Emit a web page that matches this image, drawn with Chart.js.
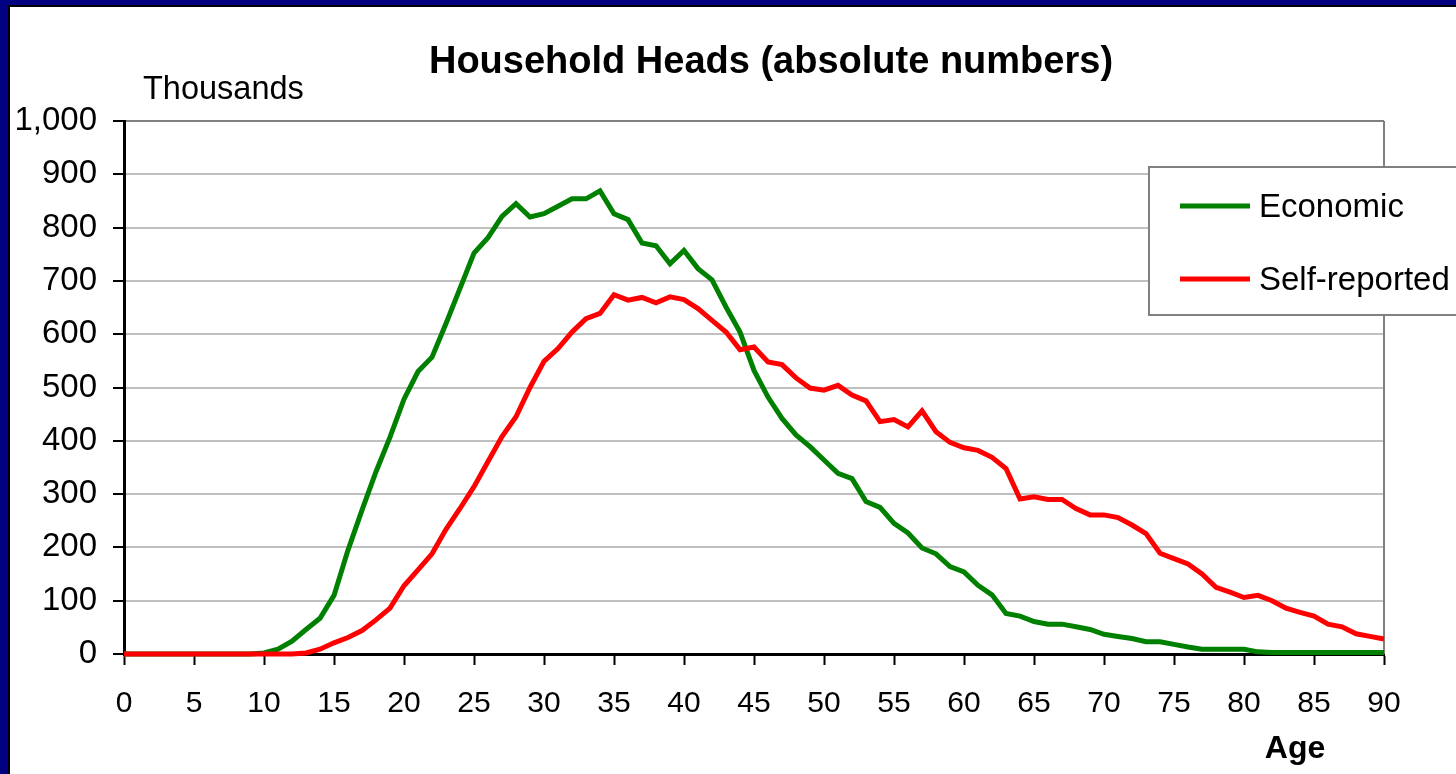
<!DOCTYPE html>
<html>
<head>
<meta charset="utf-8">
<script src="https://cdn.jsdelivr.net/npm/chart.js@4"></script>
<style>
  html, body { margin: 0; padding: 0; }
  body { width: 1456px; height: 774px; overflow: hidden; background: #000080; position: relative; }
  #marco {
    position: absolute; left: 8px; top: 5px;
    width: 1448px; height: 769px;
    border-left: 2px solid #000; border-top: 2px solid #000;
    background: #fff; overflow: hidden;
  }
  #grafico { position: absolute; left: 0; top: 0; }
</style>
</head>
<body>
<div id="marco"><canvas id="grafico" width="1446" height="767"></canvas></div>
<script>
const titulo = "Household Heads (absolute numbers)";
const tituloEjeY = "Thousands";
const tituloEjeX = "Age";

const edades = Array.from({ length: 91 }, (_, i) => i);

const economic = [
  0, 0, 0, 0, 0, 0, 0, 0, 0, 0,
  2, 9, 24, 46, 67, 110, 195, 270, 342, 407,
  478, 530, 557, 620, 686, 752, 781, 821, 845, 820,
  826, 840, 854, 854, 869, 826, 815, 771, 766, 732,
  757, 723, 702, 651, 604, 532, 482, 442, 411, 389,
  364, 339, 329, 286, 275, 245, 227, 199, 188, 164,
  154, 129, 111, 76, 71, 61, 56, 56, 51, 46,
  37, 33, 29, 23, 23, 18, 13, 9, 9, 9,
  9, 4, 3, 3, 3, 3, 3, 3, 3, 3, 3,
];

const selfReported = [
  0, 0, 0, 0, 0, 0, 0, 0, 0, 0,
  0, 0, 0, 2, 9, 21, 31, 44, 64, 86,
  128, 158, 188, 234, 273, 314, 361, 408, 445, 500,
  549, 573, 604, 629, 639, 674, 664, 669, 659, 670,
  665, 648, 626, 604, 571, 576, 548, 543, 518, 499,
  495, 504, 486, 475, 436, 440, 426, 456, 417, 397,
  387, 382, 369, 348, 291, 295, 290, 290, 273, 261,
  261, 256, 242, 226, 189, 179, 169, 150, 125, 116,
  106, 110, 100, 86, 78, 71, 56, 51, 38, 33, 28,
];

const yMin = 0;
const yMax = 1000;
const yPaso = 100;
const xPaso = 5;

const FUENTE = "'Liberation Sans', Arial, sans-serif";

function aPuntos(valores) {
  return valores.map((v, i) => ({ x: edades[i], y: v }));
}

// textos, borde del área y leyenda a mano, como en el original
const decorado = {
  id: "decorado",
  beforeDatasetsDraw(chart) {
    const { ctx, chartArea } = chart;
    ctx.save();
    ctx.strokeStyle = "#808080";
    ctx.lineWidth = 2;
    ctx.beginPath();
    ctx.moveTo(chartArea.right, chartArea.top);
    ctx.lineTo(chartArea.right, chartArea.bottom);
    ctx.stroke();
    ctx.restore();
  },
  afterDraw(chart) {
    const { ctx } = chart;
    ctx.save();
    ctx.fillStyle = "#000";
    ctx.textBaseline = "alphabetic";

    ctx.font = `bold 38px ${FUENTE}`;
    ctx.textAlign = "center";
    ctx.fillText(titulo, 761, 66);

    ctx.font = `32.5px ${FUENTE}`;
    ctx.textAlign = "left";
    ctx.fillText(tituloEjeY, 133, 92);

    ctx.font = `bold 32px ${FUENTE}`;
    ctx.textAlign = "center";
    ctx.fillText(tituloEjeX, 1285, 751);

    // leyenda
    ctx.fillStyle = "#fff";
    ctx.fillRect(1139, 160, 400, 148);
    ctx.strokeStyle = "#808080";
    ctx.lineWidth = 2;
    ctx.strokeRect(1139, 160, 400, 148);

    const filas = [210, 283];
    chart.data.datasets.forEach((ds, i) => {
      const y = filas[i];
      ctx.strokeStyle = ds.borderColor;
      ctx.lineWidth = 5;
      ctx.beginPath();
      ctx.moveTo(1170, y - 11);
      ctx.lineTo(1240, y - 11);
      ctx.stroke();
      ctx.fillStyle = "#000";
      ctx.font = `33px ${FUENTE}`;
      ctx.textAlign = "left";
      ctx.fillText(ds.label, 1249, y);
    });
    ctx.restore();
  },
};

new Chart(document.getElementById("grafico"), {
  type: "line",
  data: {
    datasets: [
      {
        label: "Economic",
        data: aPuntos(economic),
        borderColor: "#008000",
        borderWidth: 5,
        pointRadius: 0,
        tension: 0,
        clip: false,
        order: 2,
      },
      {
        label: "Self-reported",
        data: aPuntos(selfReported),
        borderColor: "#ff0000",
        borderWidth: 5,
        pointRadius: 0,
        tension: 0,
        clip: false,
        order: 1,
      },
    ],
  },
  options: {
    responsive: false,
    animation: false,
    layout: { padding: { left: 0, top: 114, right: 72, bottom: 40 } },
    scales: {
      x: {
        type: "linear",
        min: 0,
        max: 90,
        afterFit: (eje) => { eje.height = 80; },
        border: { color: "#000", width: 3 },
        grid: { drawOnChartArea: false, tickColor: "#000", tickLength: 11, tickWidth: 2 },
        ticks: {
          stepSize: xPaso,
          padding: 21,
          color: "#000",
          font: { family: FUENTE, size: 30 },
          maxRotation: 0,
        },
      },
      y: {
        min: yMin,
        max: yMax,
        afterFit: (eje) => { eje.width = 114; },
        border: { color: "#000", width: 3 },
        grid: {
          color: (c) => (c.tick && c.tick.value === yMax ? "#808080" : "#c0c0c0"),
          lineWidth: 2,
          tickColor: "#000",
          tickLength: 11,
          tickWidth: 2,
        },
        ticks: {
          stepSize: yPaso,
          padding: 16,
          color: "#000",
          font: { family: FUENTE, size: 33 },
          callback: (v) => v.toLocaleString("en-US"),
        },
      },
    },
    plugins: {
      legend: { display: false },
      title: { display: false },
      tooltip: { enabled: false },
    },
  },
  plugins: [decorado],
});
</script>
</body>
</html>
